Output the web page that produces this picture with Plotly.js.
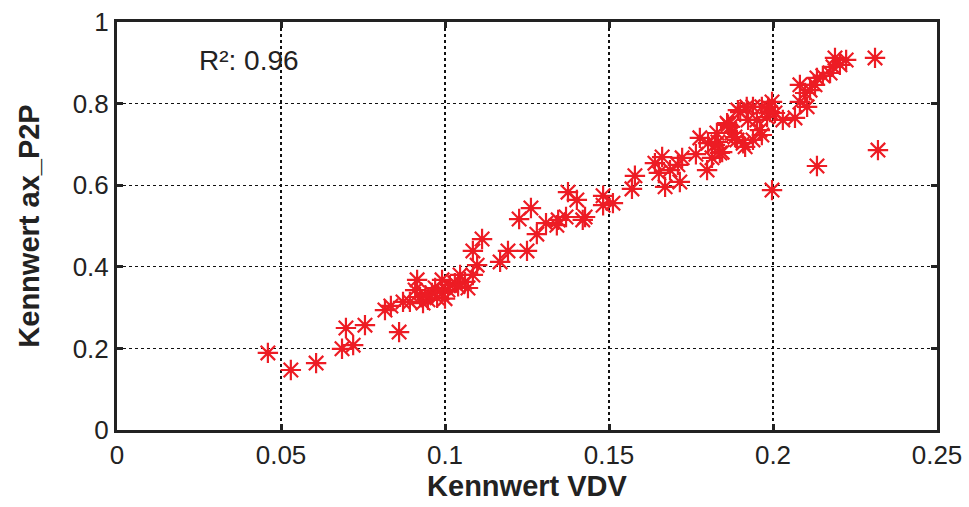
<!DOCTYPE html>
<html>
<head>
<meta charset="utf-8">
<script src="https://cdn.plot.ly/plotly-3.0.1.min.js"></script>
<style>html,body{margin:0;padding:0;background:#fff;}#chart{width:969px;height:507px;}</style>
</head>
<body>
<div id="chart"></div>
<script>
// Kennwert VDV (x) vs Kennwert ax_P2P (y)
const vdv = [
  0.046, 0.053, 0.0607, 0.0686, 0.0698, 0.072, 0.0756, 0.086, 0.0817, 0.0835,
  0.0872, 0.0893, 0.0915, 0.0909, 0.0924, 0.0933, 0.0948, 0.096, 0.097, 0.0976,
  0.0991, 0.0991, 0.1009, 0.103, 0.1046, 0.1061, 0.107, 0.1085, 0.1098, 0.1085,
  0.1113, 0.1168, 0.1192, 0.125, 0.128, 0.1226, 0.1262, 0.1308, 0.1341, 0.1345,
  0.1369, 0.1375, 0.1402, 0.1427, 0.142, 0.1482, 0.1482, 0.1512, 0.157, 0.1579,
  0.164, 0.1662, 0.1652, 0.1671, 0.1686, 0.1716, 0.171, 0.1723, 0.1765, 0.1777,
  0.1799, 0.1814, 0.1802, 0.1838, 0.1832, 0.1823, 0.1829, 0.1863, 0.1875, 0.19,
  0.189, 0.1909, 0.1915, 0.1939, 0.1951, 0.1966, 0.1982, 0.1985, 0.1997, 0.2006,
  0.203, 0.2067, 0.1997, 0.2082, 0.2082, 0.2098, 0.2104, 0.2113, 0.2128, 0.2134,
  0.2152, 0.2174, 0.2183, 0.2189, 0.2204, 0.2223, 0.2311, 0.232, 0.2134, 0.186,
  0.1893, 0.192, 0.1924, 0.196, 0.1966, 0.1884, 0.1869, 0.1939, 0.1845, 0.1991,
  0.1015, 0.0940, 0.1000, 0.1040
];
const axP2P = [
  0.189, 0.147, 0.164, 0.199, 0.25, 0.208, 0.257, 0.24, 0.294, 0.304,
  0.314, 0.314, 0.368, 0.343, 0.326, 0.311, 0.319, 0.336, 0.348, 0.324,
  0.368, 0.336, 0.343, 0.36, 0.38, 0.363, 0.348, 0.38, 0.404, 0.439,
  0.468, 0.412, 0.439, 0.439, 0.48, 0.517, 0.544, 0.507, 0.502, 0.515,
  0.522, 0.583, 0.564, 0.522, 0.515, 0.574, 0.551, 0.556, 0.591, 0.623,
  0.654, 0.669, 0.63, 0.596, 0.637, 0.608, 0.65, 0.667, 0.676, 0.716,
  0.637, 0.667, 0.703, 0.679, 0.706, 0.699, 0.728, 0.748, 0.728, 0.779,
  0.711, 0.703, 0.694, 0.792, 0.76, 0.723, 0.767, 0.792, 0.804, 0.777,
  0.76, 0.765, 0.588, 0.804, 0.846, 0.826, 0.792, 0.833, 0.846, 0.863,
  0.868, 0.875, 0.89, 0.912, 0.895, 0.907, 0.912, 0.686, 0.647, 0.752,
  0.784, 0.792, 0.76, 0.735, 0.792, 0.718, 0.743, 0.711, 0.681, 0.779,
  0.355, 0.330, 0.322, 0.352
];
const xTicks = [0, 0.05, 0.1, 0.15, 0.2, 0.25];
const xTickText = ['0', '0.05', '0.1', '0.15', '0.2', '0.25'];
const yTicks = [0, 0.2, 0.4, 0.6, 0.8, 1];
const yTickText = ['0', '0.2', '0.4', '0.6', '0.8', '1'];
const rSquared = 'R²: 0.96';

const font = 'Liberation Sans, Arial, Helvetica, sans-serif';

Plotly.newPlot('chart', [{
  type: 'scatter',
  mode: 'markers',
  x: vdv,
  y: axP2P,
  marker: {symbol: 'asterisk-open', size: 17, color: '#ED1C24', line: {color: '#ED1C24', width: 2.2}},
  hoverinfo: 'skip'
}], {
  width: 969,
  height: 507,
  margin: {l: 117, r: 32, t: 22, b: 77},
  paper_bgcolor: '#fff',
  plot_bgcolor: '#fff',
  showlegend: false,
  font: {family: font, size: 26, color: '#222'},
  xaxis: {
    range: [0, 0.25],
    tickvals: xTicks,
    ticktext: xTickText,
    ticks: 'inside',
    ticklen: 6,
    tickwidth: 3,
    tickcolor: '#222',
    showline: true,
    linecolor: '#222',
    linewidth: 3,
    mirror: 'ticks',
    showgrid: true,
    gridcolor: '#111',
    griddash: 'dot',
    gridwidth: 1.2,
    zeroline: false,
    tickfont: {family: font, size: 26, color: '#222'},
    title: {text: 'Kennwert VDV', font: {family: font, size: 29, color: '#222', weight: 'bold'}, standoff: 6}
  },
  yaxis: {
    range: [0, 1],
    tickvals: yTicks,
    ticktext: yTickText,
    ticks: 'inside',
    ticklen: 6,
    tickwidth: 3,
    tickcolor: '#222',
    showline: true,
    linecolor: '#222',
    linewidth: 3,
    mirror: 'ticks',
    showgrid: true,
    gridcolor: '#111',
    griddash: 'dot',
    gridwidth: 1.2,
    zeroline: false,
    tickfont: {family: font, size: 26, color: '#222'},
    title: {text: 'Kennwert ax_P2P', font: {family: font, size: 29, color: '#222', weight: 'bold'}, standoff: 25}
  },
  annotations: [{
    text: rSquared,
    xref: 'paper', yref: 'paper',
    x: 0.098, y: 0.905,
    xanchor: 'left', yanchor: 'middle',
    showarrow: false,
    font: {family: font, size: 28, color: '#222'}
  }]
}, {staticPlot: true});
</script>
</body>
</html>
